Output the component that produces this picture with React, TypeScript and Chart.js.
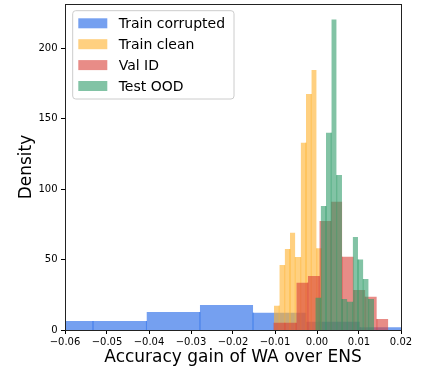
import { useEffect, useRef } from 'react';
import { Chart, registerables } from 'chart.js';

Chart.register(...registerables);

const FONT = "'DejaVu Sans', sans-serif";

const seriesLabels = ['Train corrupted', 'Train clean', 'Val ID', 'Test OOD'];
const seriesColors = ['25,97,230', '255,177,43', '217,63,55', '47,155,105'];

// Histogram bin edges and densities for each split
const trainCorruptedEdges = [-0.066, -0.0533, -0.0406, -0.0279, -0.0152, -0.0025, 0.0102, 0.0229];
const trainCorruptedDensity = [6.4, 6.4, 12.8, 17.7, 12.3, 5.9, 1.9];

const trainCleanEdges = [-0.01024, -0.00897, -0.0077, -0.00643, -0.00516, -0.00389, -0.00262, -0.00135, -0.00008, 0.00119];
const trainCleanDensity = [17.3, 46.1, 57.5, 69.1, 51.8, 133.0, 167.6, 184.6, 58.0];

const valIdEdges = [-0.0104, -0.00766, -0.00493, -0.00219, 0.00055, 0.00329, 0.00602, 0.00876, 0.0115, 0.01424, 0.01698];
const valIdDensity = [5.1, 5.1, 33.6, 38.3, 77.4, 91.1, 52.0, 28.4, 23.6, 7.8];

const testOodEdges = [-0.0004, 0.00087, 0.00214, 0.00341, 0.00468, 0.00595, 0.00722, 0.00849, 0.00976, 0.01103, 0.0123, 0.01357];
const testOodDensity = [22.9, 88.0, 140.1, 220.5, 110.0, 22, 20, 66.0, 50.0, 36.2, 22.0];

const xTickMin = -0.06;
const xTickMax = 0.02;
const xTickStep = 0.01;
const yMax = 231.5;
const yTickStep = 50;

type Pt = { x: number; y: number };

// Outline of a histogram; at each inner edge the path dips to zero so the
// shared edge between two neighbouring bins can be stroked.
function histogramPath(edges: number[], heights: number[]): Pt[] {
  const pts: Pt[] = [{ x: edges[0], y: 0 }, { x: edges[0], y: heights[0] }];
  for (let i = 1; i < heights.length; i++) {
    const m = Math.min(heights[i - 1], heights[i]);
    pts.push(
      { x: edges[i], y: heights[i - 1] },
      { x: edges[i], y: m },
      { x: edges[i], y: 0 },
      { x: edges[i], y: m },
      { x: edges[i], y: heights[i] }
    );
  }
  const n = heights.length;
  pts.push({ x: edges[n], y: heights[n - 1] }, { x: edges[n], y: 0 });
  return pts;
}

function histDataset(label: string, rgb: string, edges: number[], heights: number[], order: number) {
  const data = histogramPath(edges, heights);
  const last = data.length - 1;
  return {
    label,
    data,
    order,
    fill: 'origin',
    backgroundColor: `rgba(${rgb},0.6)`,
    borderColor: 'rgba(0,0,0,0)',
    borderWidth: 1,
    pointRadius: 0,
    pointHoverRadius: 0,
    tension: 0,
    segment: {
      borderColor: (ctx: any) => {
        if (ctx.p0DataIndex === 0 || ctx.p1DataIndex === last) return undefined;
        const a = ctx.p0.parsed;
        const b = ctx.p1.parsed;
        if (a.x === b.x && (a.y === 0 || b.y === 0)) return `rgba(${rgb},0.45)`;
        return undefined;
      },
    },
  };
}

const fmtX = (v: number) => {
  const r = Math.round(v * 100) / 100;
  return (r < 0 ? '\u2212' : '') + Math.abs(r).toFixed(2);
};

const frameAndLegend = {
  id: 'frameAndLegend',
  afterDraw(chart: any) {
    const { ctx, chartArea: a } = chart;
    ctx.save();
    // axes box
    ctx.strokeStyle = '#222';
    ctx.lineWidth = 1;
    ctx.strokeRect(Math.round(a.left) + 0.5, Math.round(a.top) + 0.5, Math.round(a.right - a.left), Math.round(a.bottom - a.top));

    // legend
    const bx = a.left + 7.7;
    const by = a.top + 6.7;
    const bw = 161.3;
    const bh = 88.3;
    const r = 3;
    ctx.beginPath();
    ctx.moveTo(bx + r, by);
    ctx.lineTo(bx + bw - r, by);
    ctx.arcTo(bx + bw, by, bx + bw, by + r, r);
    ctx.lineTo(bx + bw, by + bh - r);
    ctx.arcTo(bx + bw, by + bh, bx + bw - r, by + bh, r);
    ctx.lineTo(bx + r, by + bh);
    ctx.arcTo(bx, by + bh, bx, by + bh - r, r);
    ctx.lineTo(bx, by + r);
    ctx.arcTo(bx, by, bx + r, by, r);
    ctx.closePath();
    ctx.fillStyle = 'rgba(255,255,255,0.8)';
    ctx.fill();
    ctx.strokeStyle = '#cccccc';
    ctx.lineWidth = 1;
    ctx.stroke();

    ctx.font = `14px ${FONT}`;
    ctx.textAlign = 'left';
    ctx.textBaseline = 'alphabetic';
    seriesLabels.forEach((label, i) => {
      const cy = by + 12.6 + i * 20.9;
      ctx.fillStyle = `rgba(${seriesColors[i]},0.6)`;
      ctx.fillRect(bx + 5.6, cy - 5, 29, 10);
      ctx.fillStyle = '#000';
      ctx.fillText(label, bx + 46, cy + 5.1);
    });
    ctx.restore();
  },
};

export default function App() {
  const ref = useRef<HTMLCanvasElement>(null);

  useEffect(() => {
    const canvas = ref.current;
    if (!canvas) return;
    const chart = new Chart(canvas, {
      type: 'line',
      data: {
        datasets: [
          histDataset(seriesLabels[0], seriesColors[0], trainCorruptedEdges, trainCorruptedDensity, 3),
          histDataset(seriesLabels[1], seriesColors[1], trainCleanEdges, trainCleanDensity, 2),
          histDataset(seriesLabels[2], seriesColors[2], valIdEdges, valIdDensity, 1),
          histDataset(seriesLabels[3], seriesColors[3], testOodEdges, testOodDensity, 0),
        ] as any,
      },
      options: {
        animation: false,
        responsive: false,
        devicePixelRatio: 1,
        events: [],
        layout: { padding: { left: 0, top: 4, right: 29, bottom: 0 } },
        plugins: {
          legend: { display: false },
          tooltip: { enabled: false },
        },
        scales: {
          x: {
            type: 'linear',
            min: xTickMin,
            max: xTickMax,
            afterFit: (s: any) => {
              s.height = 41;
              s.paddingLeft = 0;
              s.paddingRight = 0;
            },
            afterBuildTicks: (s: any) => {
              s.ticks = s.ticks.filter((t: any) => Math.abs(t.value / xTickStep - Math.round(t.value / xTickStep)) < 1e-6);
            },
            ticks: {
              stepSize: xTickStep,
              autoSkip: false,
              maxRotation: 0,
              padding: 2,
              color: '#000',
              font: { family: FONT, size: 10 },
              callback: (v: any) => fmtX(Number(v)),
            },
            grid: { drawOnChartArea: false, drawTicks: true, tickLength: 4, color: '#000', lineWidth: 1 },
            border: { display: false },
            title: {
              display: true,
              text: 'Accuracy gain of WA over ENS',
              color: '#000',
              font: { family: FONT, size: 17 },
              padding: { top: 0, bottom: 3.4 },
            },
          },
          y: {
            type: 'linear',
            min: 0,
            max: yMax,
            afterFit: (s: any) => {
              s.width = 65;
              s.paddingTop = 0;
              s.paddingBottom = 0;
            },
            afterBuildTicks: (s: any) => {
              s.ticks = s.ticks.filter((t: any) => t.value % yTickStep === 0);
            },
            ticks: {
              stepSize: yTickStep,
              padding: 3.5,
              color: '#000',
              font: { family: FONT, size: 10 },
            },
            grid: { drawOnChartArea: false, drawTicks: true, tickLength: 4, color: '#000', lineWidth: 1 },
            border: { display: false },
            title: {
              display: true,
              text: 'Density',
              color: '#000',
              font: { family: FONT, size: 17 },
              padding: { top: 16.8, bottom: 0 },
            },
          },
        },
      },
      plugins: [frameAndLegend],
    } as any);
    return () => chart.destroy();
  }, []);

  return (
    <div style={{ position: 'fixed', left: 0, top: 0, width: 430, height: 371, background: '#fff' }}>
      <canvas ref={ref} width={430} height={371} style={{ display: 'block' }} />
    </div>
  );
}
